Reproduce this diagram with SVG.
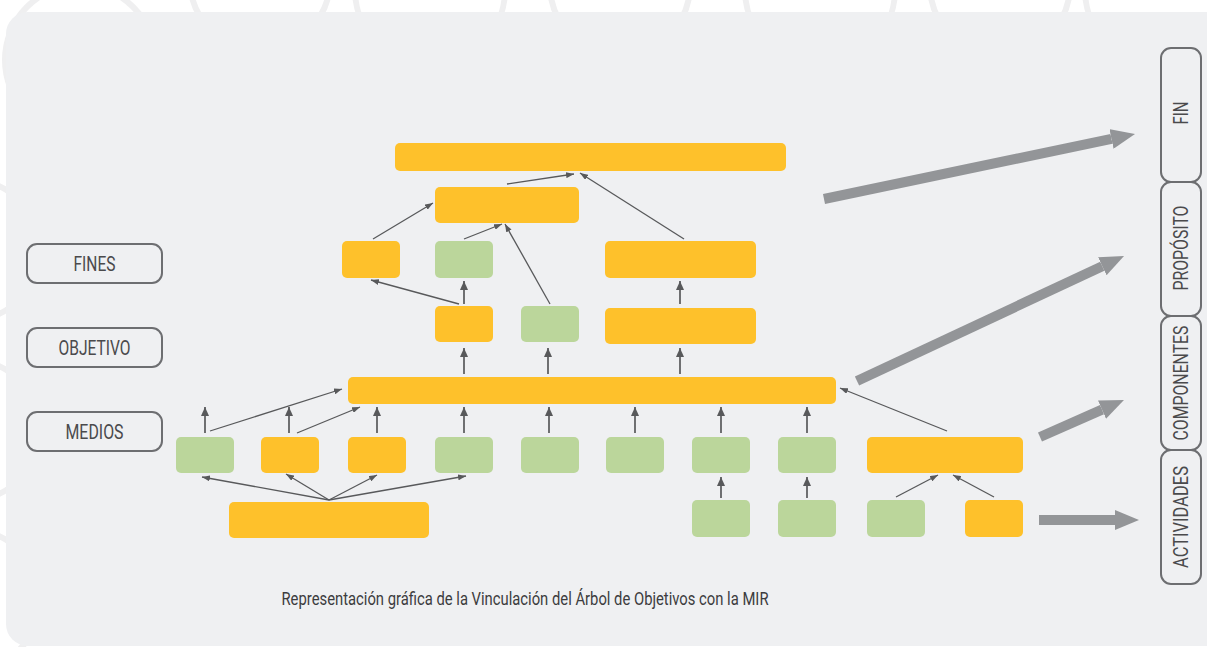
<svg xmlns="http://www.w3.org/2000/svg" width="1207" height="647" viewBox="0 0 1207 647">
  <defs>
    <style>
      .o { fill: #fec12b; }
      .g { fill: #bbd69b; }
      .lab { fill: none; stroke: #6d6e71; stroke-width: 2; }
      .lt { font-family: "Roboto", "Liberation Sans", sans-serif; font-size: 20px; fill: #4a4a4c; text-anchor: middle; }
      .thin { stroke: #58595b; stroke-width: 1.3; fill: none; marker-end: url(#ah); }
      .vert { stroke: #58595b; stroke-width: 1.7; fill: none; marker-end: url(#ah2); }
      .big { stroke: #939598; stroke-width: 10; fill: none; marker-end: url(#bh); }
      .deco { fill: none; stroke: #efeff0; stroke-width: 6; }
    </style>
    <marker id="ah" viewBox="0 0 8 6" refX="8" refY="3" markerWidth="8" markerHeight="6" markerUnits="userSpaceOnUse" orient="auto">
      <path d="M0,0 L8,3 L0,6 z" fill="#58595b"/>
    </marker>
    <marker id="ah2" viewBox="0 0 9 8" refX="9" refY="4" markerWidth="9" markerHeight="8" markerUnits="userSpaceOnUse" orient="auto">
      <path d="M0,0 L9,4 L0,8 z" fill="#58595b"/>
    </marker>
    <marker id="bh" viewBox="0 0 2.4 2" refX="0" refY="1" markerWidth="2.4" markerHeight="2" markerUnits="strokeWidth" orient="auto">
      <path d="M0,0 L2.4,1 L0,2 z" fill="#939598"/>
    </marker>
  </defs>

  <rect x="0" y="0" width="1207" height="647" fill="#ffffff"/>
  <g id="decoration">
    <circle class="deco" cx="80" cy="60" r="75"/>
    <circle class="deco" cx="260" cy="-20" r="70"/>
    <circle class="deco" cx="430" cy="-10" r="75"/>
    <circle class="deco" cx="620" cy="-15" r="70"/>
    <circle class="deco" cx="820" cy="-10" r="75"/>
    <circle class="deco" cx="1000" cy="-15" r="70"/>
    <circle class="deco" cx="1160" cy="-10" r="75"/>
    <circle class="deco" cx="-30" cy="250" r="70"/>
    <circle class="deco" cx="-30" cy="430" r="70"/>
    <circle class="deco" cx="-30" cy="600" r="70"/>
  </g>
  <rect id="panel" x="6" y="12" width="1230" height="634" rx="22" fill="#eff0f2"/>

  <g id="connectors">
    <line class="thin" x1="507" y1="184" x2="574" y2="174"/>
    <line class="thin" x1="684" y1="239" x2="580" y2="173"/>
    <line class="thin" x1="373" y1="239" x2="433" y2="203"/>
    <line class="thin" x1="464" y1="239" x2="502" y2="224"/>
    <line class="thin" x1="550" y1="304" x2="505" y2="224"/>
    <line class="thin" x1="459" y1="304" x2="371" y2="280"/>
    <line class="vert" x1="464" y1="304" x2="464" y2="281"/>
    <line class="vert" x1="680" y1="304" x2="680" y2="281"/>
    <line class="vert" x1="464" y1="374" x2="464" y2="348"/>
    <line class="vert" x1="548" y1="374" x2="548" y2="348"/>
    <line class="vert" x1="680" y1="374" x2="680" y2="348"/>
    <line class="vert" x1="205" y1="433" x2="205" y2="407"/>
    <line class="vert" x1="289" y1="433" x2="289" y2="407"/>
    <line class="vert" x1="377" y1="433" x2="377" y2="407"/>
    <line class="vert" x1="464" y1="433" x2="464" y2="407"/>
    <line class="vert" x1="549" y1="433" x2="549" y2="407"/>
    <line class="vert" x1="635" y1="433" x2="635" y2="407"/>
    <line class="vert" x1="721" y1="433" x2="721" y2="407"/>
    <line class="vert" x1="807" y1="433" x2="807" y2="407"/>
    <line class="thin" x1="210" y1="431" x2="342" y2="389"/>
    <line class="thin" x1="297" y1="433" x2="360" y2="407"/>
    <line class="thin" x1="947" y1="431" x2="840" y2="388"/>
    <line class="thin" x1="329" y1="500" x2="202" y2="477"/>
    <line class="thin" x1="329" y1="500" x2="286" y2="474"/>
    <line class="thin" x1="329" y1="500" x2="377" y2="475"/>
    <line class="thin" x1="329" y1="500" x2="466" y2="476"/>
    <line class="vert" x1="721" y1="498" x2="721" y2="477"/>
    <line class="vert" x1="807" y1="498" x2="807" y2="477"/>
    <line class="thin" x1="896" y1="497" x2="938" y2="475"/>
    <line class="thin" x1="994" y1="497" x2="953" y2="475"/>
    <line class="big" x1="824" y1="199" x2="1111.5" y2="138.9"/>
    <line class="big" x1="857" y1="381" x2="1102.3" y2="266.2"/>
    <line class="big" x1="1040" y1="437" x2="1102" y2="409.7"/>
    <line class="big" x1="1039" y1="520" x2="1115" y2="520"/>
  </g>

  <g id="n-top"><rect class="o" x="395" y="143" width="391" height="28" rx="5"/></g>
  <g id="n-l2"><rect class="o" x="435" y="187" width="144" height="36" rx="5"/></g>
  <g id="n-f1"><rect class="o" x="342" y="241" width="58" height="37" rx="5"/></g>
  <g id="n-f2"><rect class="g" x="435" y="241" width="58" height="37" rx="5"/></g>
  <g id="n-f3"><rect class="o" x="605" y="241" width="151" height="37" rx="5"/></g>
  <g id="n-o1"><rect class="o" x="435" y="306" width="58" height="36" rx="5"/></g>
  <g id="n-o2"><rect class="g" x="521" y="306" width="58" height="36" rx="5"/></g>
  <g id="n-o3"><rect class="o" x="605" y="308" width="151" height="36" rx="5"/></g>
  <g id="n-bar"><rect class="o" x="348" y="377" width="488" height="27" rx="5"/></g>
  <g id="n-m1"><rect class="g" x="176" y="437" width="58" height="36" rx="5"/></g>
  <g id="n-m2"><rect class="o" x="261" y="437" width="58" height="36" rx="5"/></g>
  <g id="n-m3"><rect class="o" x="348" y="437" width="58" height="36" rx="5"/></g>
  <g id="n-m4"><rect class="g" x="435" y="437" width="58" height="36" rx="5"/></g>
  <g id="n-m5"><rect class="g" x="521" y="437" width="58" height="36" rx="5"/></g>
  <g id="n-m6"><rect class="g" x="606" y="437" width="58" height="36" rx="5"/></g>
  <g id="n-m7"><rect class="g" x="692" y="437" width="58" height="36" rx="5"/></g>
  <g id="n-m8"><rect class="g" x="778" y="437" width="58" height="36" rx="5"/></g>
  <g id="n-m9"><rect class="o" x="867" y="437" width="156" height="36" rx="5"/></g>
  <g id="n-b1"><rect class="o" x="229" y="502" width="200" height="36" rx="5"/></g>
  <g id="n-b2"><rect class="g" x="692" y="500" width="58" height="37" rx="5"/></g>
  <g id="n-b3"><rect class="g" x="778" y="500" width="58" height="37" rx="5"/></g>
  <g id="n-b4"><rect class="g" x="867" y="500" width="58" height="37" rx="5"/></g>
  <g id="n-b5"><rect class="o" x="965" y="500" width="58" height="37" rx="5"/></g>

  <g id="lab-fines">
    <rect class="lab" x="27" y="244" width="135" height="39" rx="10"/>
    <text class="lt" x="94.5" y="271" textLength="42" lengthAdjust="spacingAndGlyphs">FINES</text>
  </g>
  <g id="lab-objetivo">
    <rect class="lab" x="27" y="328" width="135" height="39" rx="10"/>
    <text class="lt" x="94.5" y="355" textLength="72" lengthAdjust="spacingAndGlyphs">OBJETIVO</text>
  </g>
  <g id="lab-medios">
    <rect class="lab" x="27" y="412" width="135" height="39" rx="10"/>
    <text class="lt" x="94.5" y="439" textLength="58" lengthAdjust="spacingAndGlyphs">MEDIOS</text>
  </g>

  <g id="lab-fin">
    <rect class="lab" x="1161" y="48" width="40" height="134" rx="10"/>
    <text class="lt" transform="translate(1188 113) rotate(-90)" x="0" y="0" textLength="23" lengthAdjust="spacingAndGlyphs">FIN</text>
  </g>
  <g id="lab-proposito">
    <rect class="lab" x="1161" y="182" width="40" height="134" rx="10"/>
    <text class="lt" transform="translate(1188 248) rotate(-90)" x="0" y="0" textLength="85" lengthAdjust="spacingAndGlyphs">PROPÓSITO</text>
  </g>
  <g id="lab-componentes">
    <rect class="lab" x="1161" y="316" width="40" height="134" rx="10"/>
    <text class="lt" transform="translate(1188 383) rotate(-90)" x="0" y="0" textLength="115" lengthAdjust="spacingAndGlyphs">COMPONENTES</text>
  </g>
  <g id="lab-actividades">
    <rect class="lab" x="1161" y="450" width="40" height="134" rx="10"/>
    <text class="lt" transform="translate(1188 517) rotate(-90)" x="0" y="0" textLength="102" lengthAdjust="spacingAndGlyphs">ACTIVIDADES</text>
  </g>

  <text id="caption" x="525" y="605" font-family="Roboto, 'Liberation Sans', sans-serif" font-size="19" fill="#3c3c3e" text-anchor="middle" textLength="487" lengthAdjust="spacingAndGlyphs">Representación gráfica de la Vinculación del Árbol de Objetivos con la MIR</text>
</svg>
